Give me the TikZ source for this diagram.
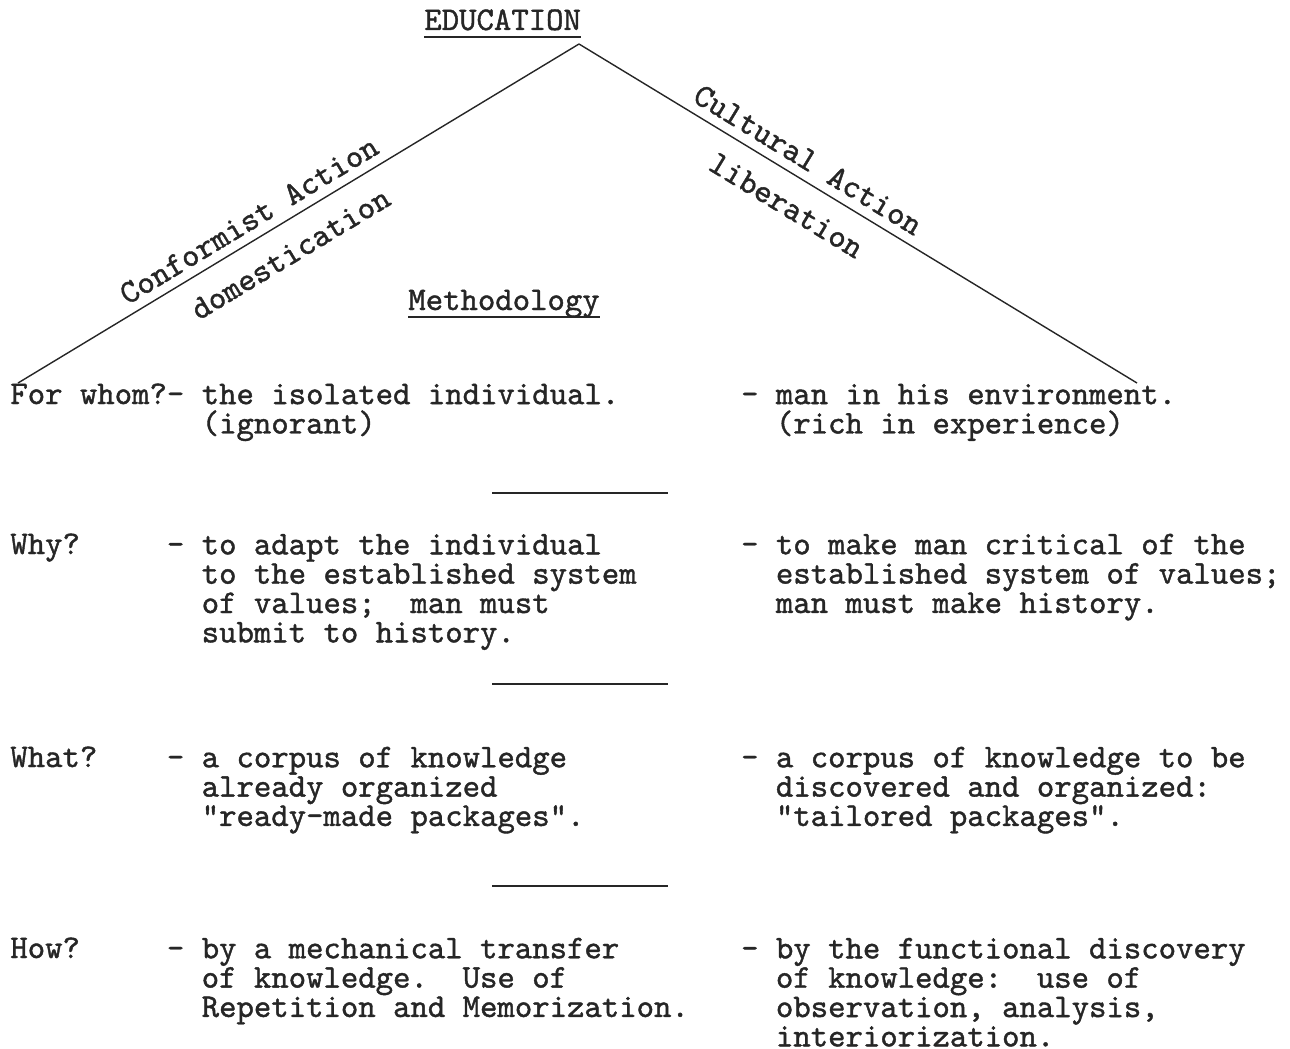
\documentclass[tikz,border=0pt]{standalone}
\usepackage{fontspec}
\newfontfamily\typer[FakeBold=1.2]{lmmono10-regular.otf}
\begin{document}
\begin{tikzpicture}[x=0.02cm, y=-0.02cm,
    ink/.style={black!85},
    typed/.style={ink, font=\typer\fontsize{18.86}{16.7}\selectfont\frenchspacing,
      inner sep=0pt, anchor=base west, align=left},
    slant/.style={ink, font=\typer\fontsize{18.86}{16.7}\selectfont, sloped, inner sep=0pt},
    rule/.style={ink, line width=1.4pt}]
    \useasboundingbox (0,0) rectangle (1290,1048);
    % heading and the two branches
    \node[typed] (edu) at (424,30) {EDUCATION};
    \draw[rule] ([yshift=-4pt]edu.base west) -- ([yshift=-4pt]edu.base east);
    \coordinate (apex) at (579,44);
    \coordinate (lend) at (18,383);
    \coordinate (rend) at (1137,383);
    \draw[ink, line width=0.8pt] (lend) -- (apex)
        node[slant, pos=0.43, above=5pt] (conf) {Conformist Action}
        node[slant, pos=0.458, below=11pt] (dom) {domestication};
    \draw[ink, line width=0.8pt] (apex) -- (rend)
        node[slant, pos=0.392, above=5pt] (cult) {Cultural Action}
        node[slant, pos=0.40, below=11pt] (lib) {liberation};
    \node[typed] (meth) at (408,310) {Methodology};
    \draw[rule] ([yshift=-4pt]meth.base west) -- ([yshift=-4pt]meth.base east);
    % the four questions (base = last line)
    \node[typed] (whom) at (10,404) {For whom?-};
    \node[typed] (whomL) at (201.4,{404+29.46}) {the isolated individual.\\(ignorant)};
    \node[typed] (whomR) at (740.8,{404+29.46}) {- man in his environment.\\\hphantom{- }(rich in experience)};
    \node[typed] (why) at (10,554) {Why?};
    \node[typed] (whyL) at (166.6,{554+3*29.46}) {- to adapt the individual\\\hphantom{- }to the established system\\\hphantom{- }of values;\ \ man must\\\hphantom{- }submit to history.};
    \node[typed] (whyR) at (740.8,{554+2*29.46}) {- to make man critical of the\\\hphantom{- }established system of values;\\\hphantom{- }man must make history.};
    \node[typed] (what) at (10,767) {What?};
    \node[typed] (whatL) at (166.6,{767+2*29.46}) {- a corpus of knowledge\\\hphantom{- }already organized\\\hphantom{- }"ready-made packages".};
    \node[typed] (whatR) at (740.8,{767+2*29.46}) {- a corpus of knowledge to be\\\hphantom{- }discovered and organized:\\\hphantom{- }"tailored packages".};
    \node[typed] (how) at (10,958) {How?};
    \node[typed] (howL) at (166.6,{958+2*29.46}) {- by a mechanical transfer\\\hphantom{- }of knowledge.\ \ Use of\\\hphantom{- }Repetition and Memorization.};
    \node[typed] (howR) at (740.8,{958+3*29.46}) {- by the functional discovery\\\hphantom{- }of knowledge:\ \ use of\\\hphantom{- }observation, analysis,\\\hphantom{- }interiorization.};
    % separators
    \foreach \y in {493,684,886}
        \draw[rule] (492,\y) -- (668,\y);
\end{tikzpicture}
\end{document}
